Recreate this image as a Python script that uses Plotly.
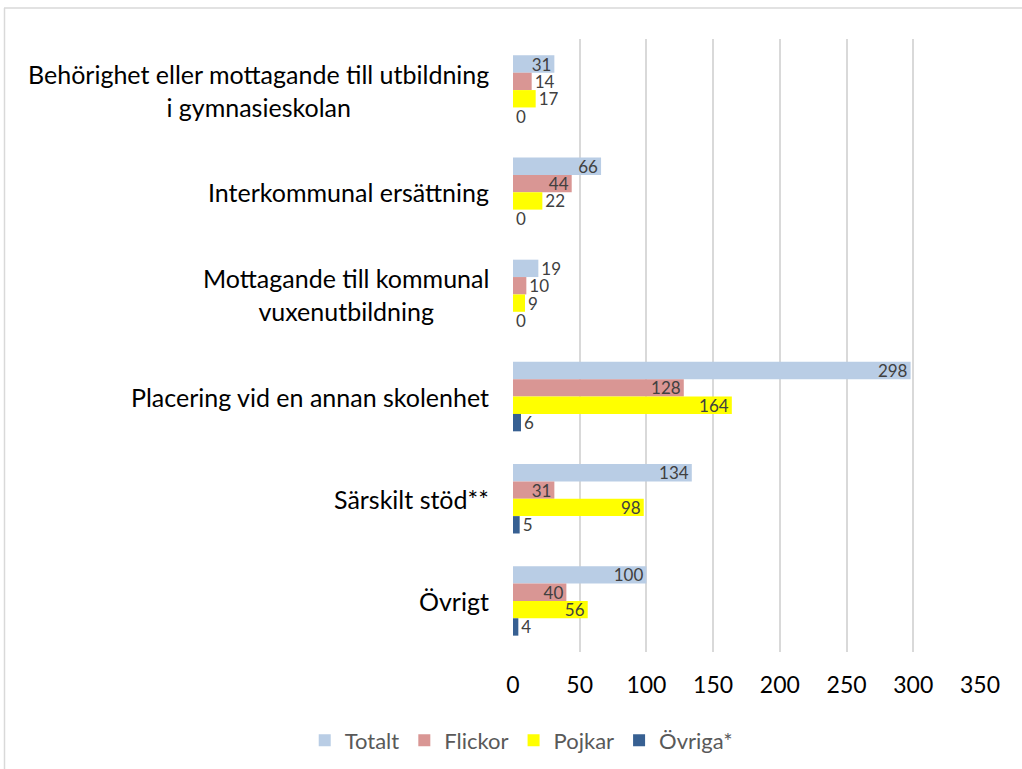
import plotly.graph_objects as go

categories = [
    "Behörighet eller mottagande till utbildning<br>i gymnasieskolan",
    "Interkommunal ersättning",
    "Mottagande till kommunal<br>vuxenutbildning",
    "Placering vid en annan skolenhet",
    "Särskilt stöd**",
    "Övrigt",
]
series_names = ["Totalt", "Flickor", "Pojkar", "Övriga*"]
totalt = [31, 66, 19, 298, 134, 100]
flickor = [14, 44, 10, 128, 31, 40]
pojkar = [17, 22, 9, 164, 98, 56]
ovriga = [0, 0, 0, 6, 5, 4]
colors = ["#B9CDE5", "#D99694", "#FFFF00", "#376092"]
x_ticks = [0, 50, 100, 150, 200, 250, 300, 350]

FONT = "Lato"
fig = go.Figure()
for name, vals, col in zip(series_names, [totalt, flickor, pojkar, ovriga], colors):
    fig.add_trace(go.Bar(
        y=categories, x=vals, name=name, orientation="h",
        marker=dict(color=col, line=dict(width=0)),
        text=[str(v) for v in vals],
        textposition=["inside" if v >= 30 else "outside" for v in vals],
        insidetextanchor="end",
        textangle=0,
        constraintext="none",
        cliponaxis=False,
        textfont=dict(family=FONT, size=17, color="#404040"),
    ))

for c in categories:
    fig.add_annotation(
        x=0, xref="paper", xanchor="right", xshift=-22,
        y=c, yref="y", text=c, showarrow=False, align="center",
        font=dict(family=FONT, size=25, color="#000000"),
    )

fig.update_layout(
    width=1022, height=769,
    margin=dict(l=513, r=42, t=39, b=117),
    paper_bgcolor="white", plot_bgcolor="white",
    barmode="group", bargap=0.32, bargroupgap=0,
    showlegend=True,
    legend=dict(
        orientation="h", xref="container", yref="container",
        x=0.51, xanchor="center", y=0.037, yanchor="middle",
        font=dict(family=FONT, size=22, color="#595959"),
        traceorder="normal", itemwidth=30,
    ),
    xaxis=dict(
        range=[0, 350], tickvals=x_ticks, ticktext=[str(t) for t in x_ticks],
        showgrid=True, gridcolor="#D9D9D9", gridwidth=2,
        zeroline=False, showline=False, ticks="",
        ticklabelstandoff=17,
        tickfont=dict(family=FONT, size=23, color="#000000"),
    ),
    yaxis=dict(
        categoryorder="array", categoryarray=categories,
        autorange="reversed", showticklabels=False, showgrid=False,
        zeroline=False, showline=False, ticks="",
    ),
    shapes=[
        dict(type="line", xref="paper", yref="paper",
             x0=(4 - 513) / 467, x1=(1030 - 513) / 467,
             y0=(769 - 8 - 117) / 613, y1=(769 - 8 - 117) / 613,
             line=dict(color="#D9D9D9", width=1.5)),
        dict(type="line", xref="paper", yref="paper",
             x0=(4.5 - 513) / 467, x1=(4.5 - 513) / 467,
             y0=(769 - 8 - 117) / 613, y1=(-10 - 117) / 613,
             line=dict(color="#D9D9D9", width=1.5)),
    ],
)

fig.write_html("out.html", config={"displayModeBar": False},
               post_script="document.body.style.margin='0';")
